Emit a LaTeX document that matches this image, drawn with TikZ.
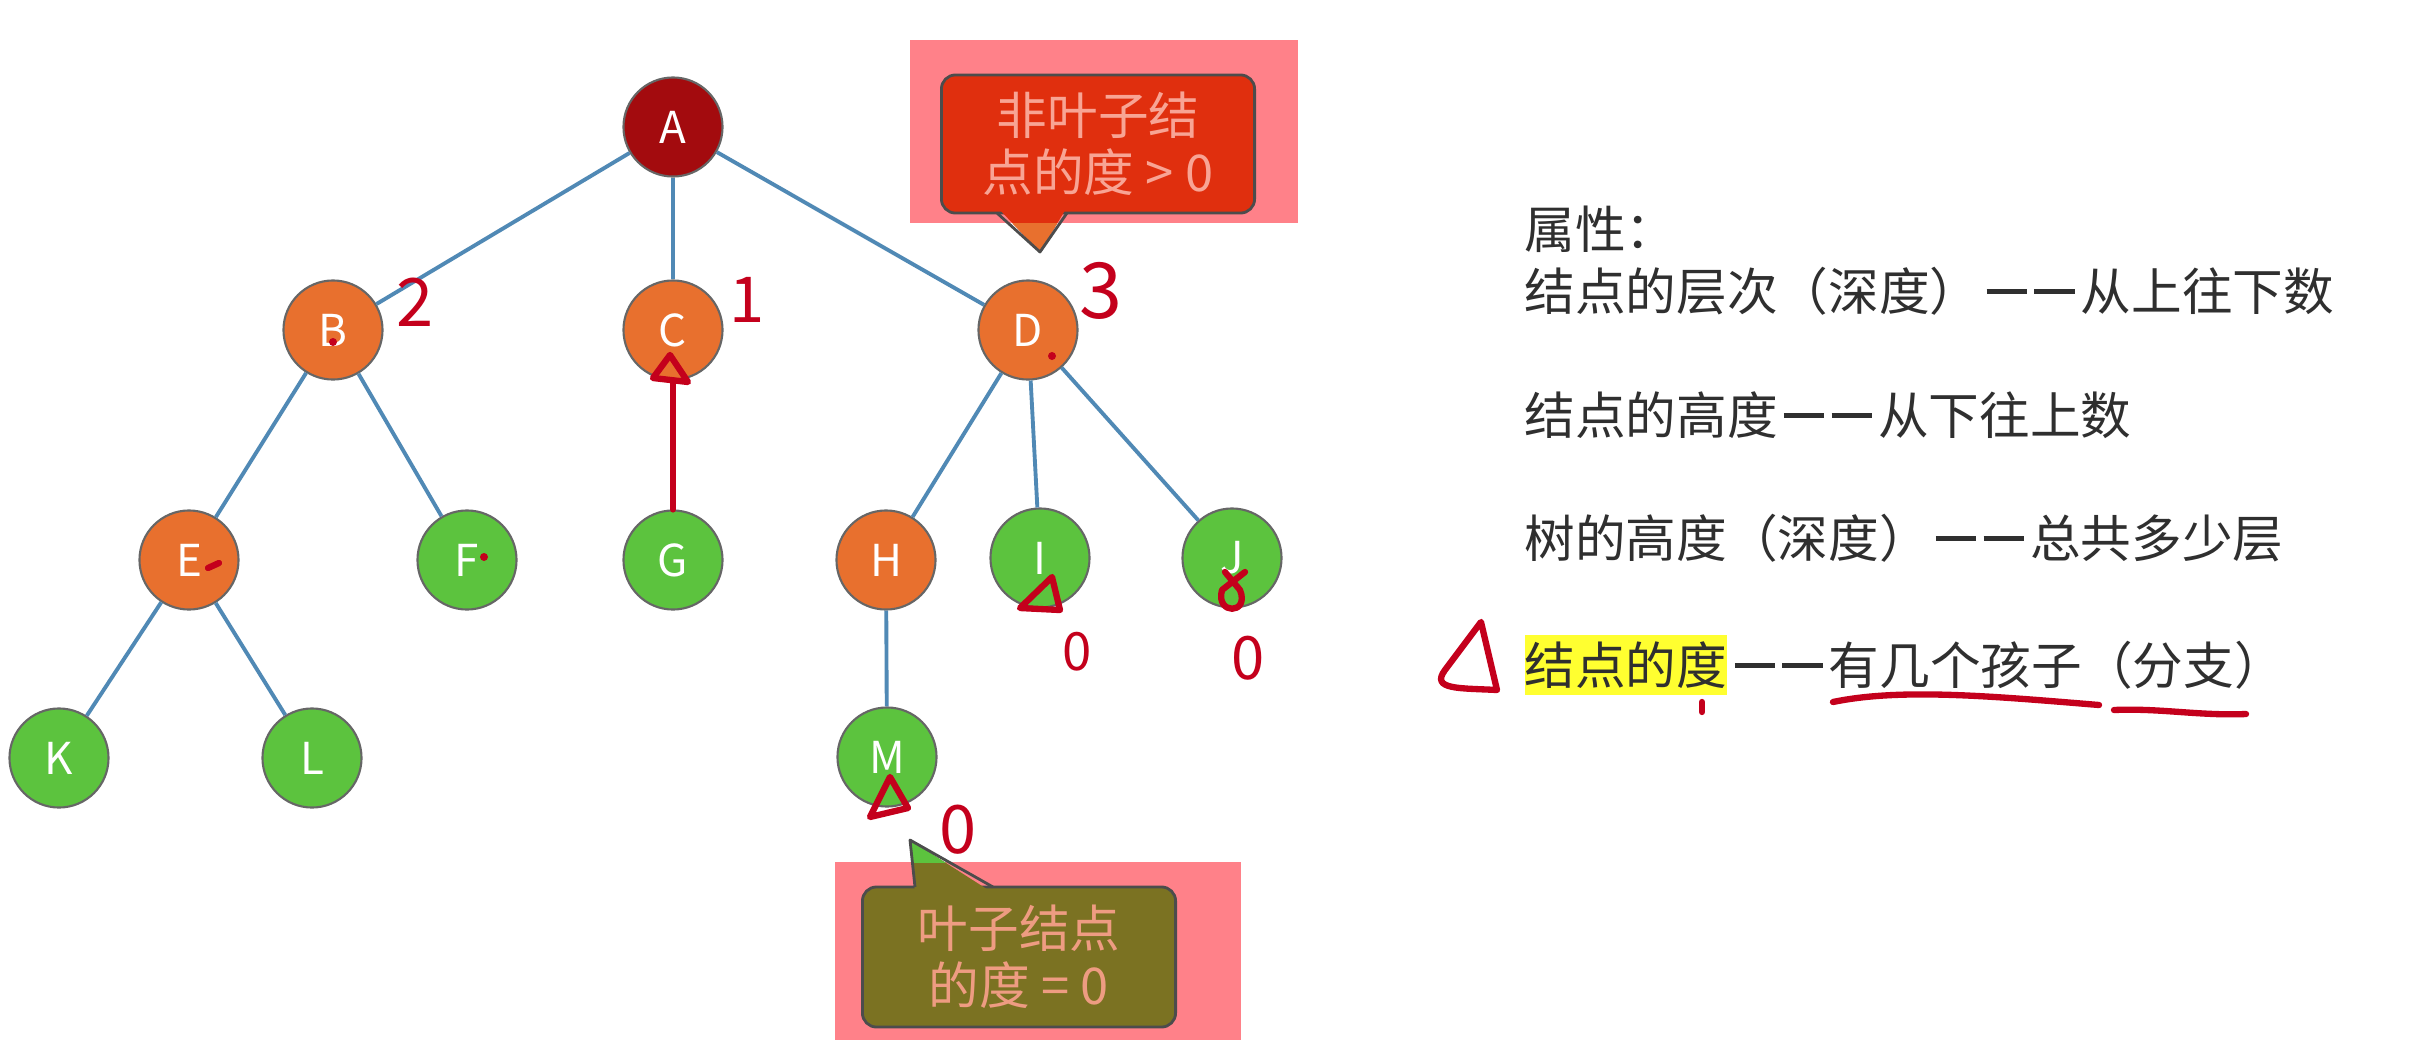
\documentclass[tikz,border=0pt]{standalone}
\usepackage{fontspec}
\setmainfont{Noto Sans CJK SC}
\usepackage{tikz}
\usetikzlibrary{positioning}
\definecolor{rootc}{HTML}{A30B0E}
\definecolor{midc}{HTML}{E8702E}
\definecolor{leafc}{HTML}{5CC33E}
\definecolor{linkc}{HTML}{5089B5}
\definecolor{penc}{HTML}{C4001C}
\definecolor{overc}{HTML}{FF8189}
\definecolor{redboxc}{HTML}{E02F0E}
\definecolor{oliveboxc}{HTML}{7B7222}
\definecolor{redtxtc}{HTML}{F8A494}
\definecolor{olivetxtc}{HTML}{EE9C82}
\definecolor{hlc}{HTML}{FFFF30}
\definecolor{textc}{HTML}{2F2F2F}
\newcommand\twodash{\hspace{0.12em}\rule[0.33em]{0.8em}{0.085em}\hspace{0.14em}\rule[0.33em]{0.8em}{0.085em}\hspace{0.12em}}
\tikzset{
  vtx/.style={circle, minimum size=0.99cm, inner sep=0pt, draw=black!60, line width=0.6pt, text=white, font=\fontsize{12.5}{14}\selectfont},
  rootv/.style={vtx, fill=rootc},
  midv/.style={vtx, fill=midc},
  leafv/.style={vtx, fill=leafc},
  link/.style={draw=linkc, line width=1.1pt},
  callbox/.style={rounded corners=0.14cm, draw=black!70, line width=0.8pt, minimum width=3.13cm, minimum height=1.38cm, align=center, font=\fontsize{14.4}{16.2}\selectfont},
  callside/.style={draw=black!70, line width=0.8pt, line join=round},
  prop/.style={anchor=west, inner sep=0pt, text=textc, font=\fontsize{14.4}{16}\selectfont},
  pen/.style={draw=penc, line width=1.8pt, line cap=round, line join=round},
  num/.style={text=penc, inner sep=0pt},
}
\begin{document}
\begin{tikzpicture}[x=0.01cm, y=-0.01cm]
\fill[white] (0,0) rectangle (2426,1042);
% tree
\node[rootv] (A) at (673,127) {A};
\node[midv] (B) at (333,330) {B};
\node[midv] (C) at (673,330) {C};
\node[midv] (D) at (1028,330) {D};
\node[midv] (E) at (189,560) {E};
\node[leafv] (F) at (467,560) {F};
\node[leafv] (G) at (673,560) {G};
\node[midv] (H) at (886,560) {H};
\node[leafv] (I) at (1040,558) {I};
\node[leafv] (J) at (1232,558) {J};
\node[leafv] (K) at (59,758) {K};
\node[leafv] (L) at (312,758) {L};
\node[leafv] (M) at (887,757) {M};
\foreach \a/\b in {A/B,A/C,A/D,B/E,B/F,C/G,D/H,D/I,D/J,E/K,E/L,H/M}
  \draw[link] (\a) -- (\b);
% callouts on their pink marks
\fill[overc] (910,40) rectangle (1298,223);
\fill[overc] (835,862) rectangle (1241,1040);
\node[callbox, fill=redboxc, text=redtxtc] (n1) at (1098,144) {非叶子结\\点的度 > 0};
\fill[redboxc] (997,207) -- (1067,207) -- (1040,252) -- cycle;
\begin{scope}
\clip (990,223) rectangle (1075,260);
\fill[midc] (997,207) -- (1067,207) -- (1040,252) -- cycle;
\end{scope}
\draw[callside] (997,213) -- (1040,252) -- (1067,213);
\node[callbox, fill=oliveboxc, text=olivetxtc, minimum height=1.40cm] (n2) at (1019,957) {叶子结点\\的度 = 0};
\fill[oliveboxc] (915,893) -- (993,893) -- (910,840) -- cycle;
\begin{scope}
\clip (900,830) rectangle (1000,862);
\fill[leafc] (915,893) -- (993,893) -- (910,840) -- cycle;
\end{scope}
\draw[callside] (915,887) -- (910,840) -- (993,887);
% properties
\node[prop] (p0) at (1524,229) {属性：};
\node[prop] (p1) at (1524,291) {结点的层次（深度）\twodash 从上往下数};
\node[prop] (p2) at (1524,415) {结点的高度\twodash 从下往上数};
\node[prop] (p3) at (1524,538) {树的高度（深度）\twodash 总共多少层};
\node[prop, fill=hlc, inner ysep=1.8pt] (p4) at (1524,665) {结点的度};
\node[prop, right=0pt of p4] (p5) {\twodash 有几个孩子（分支）};
% hand marks
\node[num, font=\fontsize{19}{19}\selectfont] (d1) at (415,302) {2};
\node[num, font=\fontsize{18}{18}\selectfont] (d2) at (747,300) {1};
\node[num, font=\fontsize{22}{22}\selectfont] (d3) at (1101,291) {3};
\node[num, font=\fontsize{15}{15}\selectfont] (d4) at (1077,652) {0};
\node[num, font=\fontsize{17}{17}\selectfont] (d5) at (1248,658) {0};
\node[num, font=\fontsize{19}{19}\selectfont] (d6) at (958,830) {0};
\draw[pen] (G) -- (C.south);
\draw[pen] (670,355) -- (653,378) -- (688,382) -- cycle;
\draw[pen] (1052,577) -- (1020,608) -- (1060,610) -- cycle;
\draw[pen] (1245,572) -- (1222,590) .. controls (1215,615) and (1250,615) .. (1240,590) -- (1225,572);
\draw[pen] (890,777) -- (870,817) -- (908,808) -- cycle;
\draw[pen] (1481,622) -- (1445,670) .. controls (1430,690) and (1460,688) .. (1497,690) -- cycle;
\draw[pen] (1833,702) .. controls (1900,688) and (1990,696) .. (2099,705);
\draw[pen] (2114,710) .. controls (2160,708) and (2200,716) .. (2246,714);
\draw[pen] (1702,702) -- (1702,712);
\fill[penc] (333,342) circle (4);
\fill[penc] (1052,356) circle (4);
\draw[pen] (208,568) -- (219,563);
\fill[penc] (484,557) circle (4);
\end{tikzpicture}
\end{document}
